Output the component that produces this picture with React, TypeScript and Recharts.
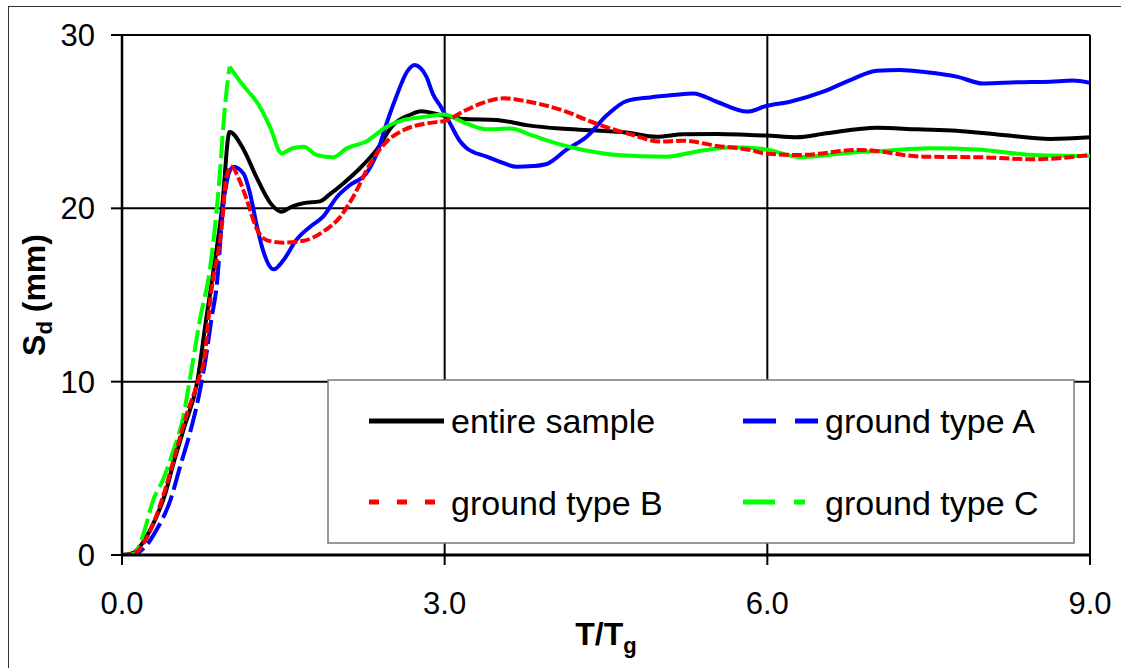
import { LineChart, Line, XAxis, YAxis, CartesianGrid, Label } from "recharts"

const FONT = '"Liberation Sans", Arial, sans-serif'

// [T/Tg, Sd (mm)]
const entireSample: [number, number][] = [
  [0, 0], [0.1, 0.1], [0.18, 0.6], [0.25, 1.3], [0.32, 2.2], [0.4, 3.5], [0.47, 5.1], [0.58, 7.4],
  [0.7, 10], [0.78, 13.5], [0.86, 16.8], [0.93, 20], [1.0, 24.4], [1.13, 23.4], [1.25, 21.8],
  [1.38, 20.3], [1.48, 19.8], [1.58, 20.1], [1.69, 20.3], [1.84, 20.4], [1.93, 20.8], [2.06, 21.45],
  [2.21, 22.3], [2.37, 23.4], [2.52, 24.8], [2.68, 25.4], [2.78, 25.6], [2.99, 25.35], [3.2, 25.15],
  [3.48, 25.1], [3.76, 24.8], [4.07, 24.6], [4.38, 24.5], [4.69, 24.37], [4.97, 24.13], [5.22, 24.27],
  [5.53, 24.29], [5.84, 24.23], [5.99, 24.2], [6.27, 24.1], [6.55, 24.33], [7.02, 24.65], [7.39, 24.56],
  [7.76, 24.48], [8.19, 24.23], [8.63, 24.0], [9.0, 24.1],
]

const groundA: [number, number][] = [
  [0, 0], [0.08, 0], [0.14, 0.1], [0.22, 0.5], [0.32, 1.44], [0.45, 3.17], [0.54, 5.1], [0.63, 7.0],
  [0.725, 9.5], [0.79, 11.8], [0.83, 13.56], [0.88, 15.5], [0.94, 20.1], [0.99, 22.0], [1.035, 22.4],
  [1.13, 22.0], [1.19, 20.87], [1.25, 19.1], [1.31, 17.6], [1.41, 16.48], [1.5, 17.0], [1.62, 18.17],
  [1.75, 18.94], [1.87, 19.52], [2.0, 20.67], [2.12, 21.35], [2.27, 22.0], [2.37, 23.17], [2.46, 24.9],
  [2.55, 26.44], [2.65, 27.88], [2.72, 28.27], [2.83, 27.6], [2.89, 26.6], [2.96, 25.9], [3.05, 24.9],
  [3.14, 23.9], [3.2, 23.5], [3.39, 22.98], [3.51, 22.7], [3.67, 22.4], [3.82, 22.44], [3.95, 22.56],
  [4.13, 23.37], [4.32, 24.13], [4.51, 25.38], [4.69, 26.19], [4.91, 26.4], [5.13, 26.54], [5.31, 26.63],
  [5.53, 26.15], [5.81, 25.58], [5.99, 25.9], [6.21, 26.15], [6.52, 26.73], [6.77, 27.4], [7.02, 27.94],
  [7.23, 27.98], [7.48, 27.85], [7.76, 27.6], [8.01, 27.2], [8.32, 27.27], [8.63, 27.31], [8.84, 27.37],
  [9.0, 27.25],
]

const groundB: [number, number][] = [
  [0, 0], [0.1, 0.05], [0.2, 0.67], [0.31, 2.1], [0.4, 3.75], [0.51, 6.15], [0.6, 8.08], [0.7, 9.9],
  [0.77, 11.54], [0.82, 14.7], [0.93, 19.1], [0.97, 21.8], [1.02, 22.4], [1.08, 21.8], [1.16, 20.5],
  [1.25, 18.85], [1.345, 18.17], [1.5, 18.02], [1.69, 18.13], [1.87, 18.65], [2.03, 19.52], [2.15, 20.67],
  [2.31, 22.6], [2.46, 23.85], [2.62, 24.52], [2.83, 24.9], [3.0, 25.05], [3.2, 25.67], [3.36, 26.1],
  [3.55, 26.35], [3.73, 26.21], [3.98, 25.87], [4.13, 25.58], [4.32, 25.1], [4.51, 24.67], [4.75, 24.23],
  [5.0, 23.85], [5.22, 23.9], [5.53, 23.6], [5.84, 23.37], [5.99, 23.15], [6.3, 23.08], [6.86, 23.37],
  [7.45, 22.98], [8.01, 22.94], [8.47, 22.83], [9.0, 23.08],
]

const groundC: [number, number][] = [
  [0, 0], [0.1, 0.05], [0.15, 0.4], [0.21, 1.44], [0.29, 3.17], [0.38, 4.33], [0.48, 6.06], [0.57, 7.98],
  [0.63, 10.1], [0.725, 13.6], [0.82, 16.6], [0.895, 20.9], [0.96, 26.06], [1.0, 28.17], [1.1, 27.3],
  [1.28, 25.87], [1.376, 24.7], [1.485, 23.17], [1.58, 23.46], [1.69, 23.56], [1.81, 23.08], [1.96, 22.94],
  [2.09, 23.46], [2.27, 23.85], [2.46, 24.71], [2.62, 25.1], [2.83, 25.29], [2.99, 25.42], [3.2, 24.9],
  [3.39, 24.56], [3.61, 24.6], [3.82, 24.2], [4.04, 23.75], [4.29, 23.37], [4.6, 23.08], [5.06, 22.98],
  [5.37, 23.31], [5.68, 23.52], [5.99, 23.4], [6.3, 22.95], [6.77, 23.21], [7.08, 23.31], [7.51, 23.46],
  [7.95, 23.4], [8.47, 23.08], [9.0, 23.02],
]

const xTicks = [0, 3, 6, 9]
const yTicks = [0, 10, 20, 30]
const seriesNames = ["entire sample", "ground type A", "ground type B", "ground type C"]

const toRows = (pts: [number, number][]) => pts.map(([t, v]) => ({ t, v }))
// index where the steep rise ends (dashes only show up there in the original)
const riseEnd = (pts: [number, number][], t: number) => pts.findIndex((p) => p[0] === t)

const aRise = riseEnd(groundA, 0.99)
const cRise = riseEnd(groundC, 1.0)

const legendItems = [
  { name: seriesNames[0], color: "#000000", dash: undefined, col: 0, row: 0 },
  { name: seriesNames[1], color: "#0000FF", dash: "33 19", col: 1, row: 0 },
  { name: seriesNames[2], color: "#FF0000", dash: "10 18", col: 0, row: 1 },
  { name: seriesNames[3], color: "#00FF00", dash: "32 19 11 19", col: 1, row: 1 },
]

function ChartLegend() {
  return (
    <svg
      width={748}
      height={165}
      style={{ position: "absolute", left: 327, top: 379 }}
    >
      <rect x={1} y={1} width={746} height={163} fill="#fff" stroke="#777" strokeWidth={1.5} />
      {legendItems.map((it) => {
        const x0 = it.col === 0 ? 42 : 416
        const ly = it.row === 0 ? 42 : 123
        const ty = it.row === 0 ? 54 : 136
        return (
          <g key={it.name}>
            <line x1={x0} x2={x0 + 75} y1={ly} y2={ly} stroke={it.color} strokeWidth={5} strokeDasharray={it.dash} />
            <text x={x0 + 82} y={ty} fontSize={34} fontFamily={FONT} fill="#000">
              {it.name}
            </text>
          </g>
        )
      })}
    </svg>
  )
}

export default function App() {
  const a = toRows(groundA)
  const c = toRows(groundC)
  return (
    <div
      style={{
        position: "absolute",
        left: 0,
        top: 0,
        width: 1121,
        height: 668,
        background: "#fff",
        overflow: "hidden",
        fontFamily: FONT,
      }}
    >
      <div
        style={{
          position: "absolute",
          left: 8,
          top: 6,
          width: 1200,
          height: 800,
          borderLeft: "1px solid #333",
          borderTop: "1px solid #333",
        }}
      />
      <div style={{ position: "absolute", left: 0, top: 0 }}>
        <LineChart width={1121} height={668} margin={{ top: 35, right: 31, bottom: 0, left: 0 }}>
          <CartesianGrid stroke="#000" strokeWidth={2} />
          <XAxis
            type="number"
            dataKey="t"
            domain={[0, 9]}
            ticks={xTicks}
            tickFormatter={(v: number) => v.toFixed(1)}
            height={113}
            tickSize={10}
            tickMargin={27}
            tick={{ fill: "#000", fontSize: 31, fontFamily: FONT }}
            axisLine={{ stroke: "#000", strokeWidth: 3 }}
            tickLine={{ stroke: "#000", strokeWidth: 2 }}
            allowDataOverflow
          >
            <Label
              content={(props: any) => {
                const vb = props.viewBox || {}
                const cx = (vb.x ?? 122) + (vb.width ?? 968) / 2
                return (
                  <text x={cx} y={645} textAnchor="middle" fontSize={32} fontWeight="bold" fontFamily={FONT} fill="#000">
                    T/T
                    <tspan dy={8} fontSize={22}>g</tspan>
                  </text>
                )
              }}
            />
          </XAxis>
          <YAxis
            type="number"
            domain={[0, 30]}
            ticks={yTicks}
            width={122}
            tickSize={11}
            tickMargin={16}
            tick={{ fill: "#000", fontSize: 31, fontFamily: FONT }}
            axisLine={{ stroke: "#000", strokeWidth: 2.5 }}
            tickLine={{ stroke: "#000", strokeWidth: 2 }}
            allowDataOverflow
          >
            <Label
              content={(props: any) => {
                const vb = props.viewBox || {}
                const cy = (vb.y ?? 35) + (vb.height ?? 520) / 2
                return (
                  <text
                    x={45}
                    y={cy}
                    transform={`rotate(-90, 45, ${cy})`}
                    textAnchor="middle"
                    fontSize={32}
                    fontWeight="bold"
                    fontFamily={FONT}
                    fill="#000"
                  >
                    S
                    <tspan dy={7} fontSize={22}>d</tspan>
                    <tspan dy={-7}> (mm)</tspan>
                  </text>
                )
              }}
            />
          </YAxis>

          <Line data={toRows(entireSample)} dataKey="v" type="monotone" stroke="#000" strokeWidth={4} dot={false} isAnimationActive={false} name={seriesNames[0]} />
          <Line data={a.slice(0, aRise + 1)} dataKey="v" type="monotone" stroke="#0000FF" strokeWidth={4} strokeDasharray="24 6" dot={false} isAnimationActive={false} name={seriesNames[1]} />
          <Line data={a.slice(aRise)} dataKey="v" type="monotone" stroke="#0000FF" strokeWidth={4} dot={false} isAnimationActive={false} name={seriesNames[1]} />
          <Line data={c.slice(0, cRise + 1)} dataKey="v" type="monotone" stroke="#00FF00" strokeWidth={4} strokeDasharray="22 6" dot={false} isAnimationActive={false} name={seriesNames[3]} />
          <Line data={c.slice(cRise)} dataKey="v" type="monotone" stroke="#00FF00" strokeWidth={4} dot={false} isAnimationActive={false} name={seriesNames[3]} />
          <Line data={toRows(groundB)} dataKey="v" type="monotone" stroke="#FF0000" strokeWidth={4} strokeDasharray="10 3" dot={false} isAnimationActive={false} name={seriesNames[2]} />
        </LineChart>
      </div>
      <ChartLegend />
    </div>
  )
}
